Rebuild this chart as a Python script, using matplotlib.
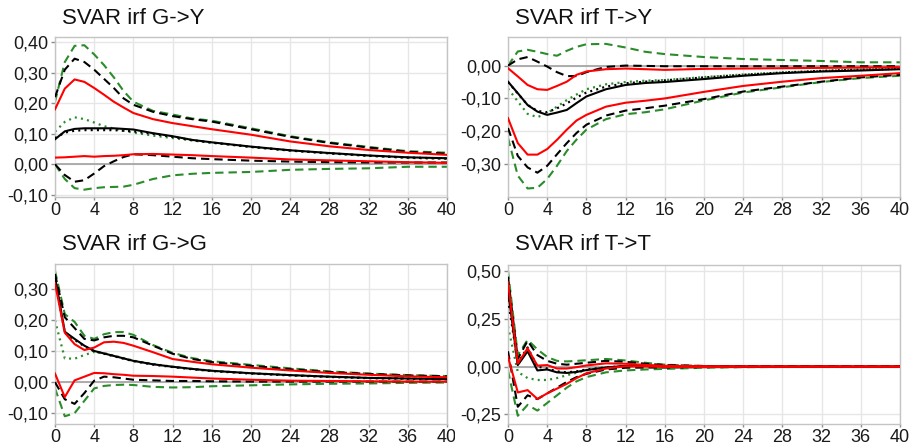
"""SVAR impulse responses: four panels (G->Y, T->Y, G->G, T->T), 40 quarters.

Each panel carries a point estimate (black), its bands (black dashed), a second
set of bands (red), a wider set (green dashed) and two dotted alternatives.
"""

import matplotlib
matplotlib.use("Agg")
import matplotlib.pyplot as plt
from matplotlib.ticker import FuncFormatter
from matplotlib.transforms import Bbox, TransformedBbox

plt.rcParams["font.family"] = ["Liberation Sans", "DejaVu Sans"]

# horizons (quarters) at which values were read
H = [0, 1, 2, 3, 4, 5, 6, 7, 8, 10, 12, 14, 16, 20, 24, 28, 32, 36, 40]

# ---------------------------------------------------------------- G -> Y
gy_green_up = [0.205, 0.335, 0.388, 0.39, 0.36, 0.325, 0.285, 0.24, 0.205, 0.175, 0.163, 0.15, 0.143, 0.118, 0.092, 0.072, 0.057, 0.043, 0.038]
gy_black_up = [0.22, 0.31, 0.346, 0.335, 0.31, 0.28, 0.25, 0.216, 0.195, 0.172, 0.158, 0.148, 0.14, 0.115, 0.09, 0.07, 0.055, 0.041, 0.035]
gy_red_up = [0.18, 0.248, 0.278, 0.27, 0.25, 0.228, 0.205, 0.186, 0.168, 0.148, 0.135, 0.125, 0.115, 0.097, 0.075, 0.059, 0.047, 0.038, 0.031]
gy_black = [0.082, 0.108, 0.116, 0.118, 0.118, 0.118, 0.118, 0.116, 0.114, 0.102, 0.092, 0.08, 0.072, 0.058, 0.046, 0.037, 0.029, 0.023, 0.02]
gy_black_dot = [0.086, 0.104, 0.11, 0.112, 0.112, 0.112, 0.112, 0.11, 0.108, 0.1, 0.09, 0.079, 0.071, 0.057, 0.045, 0.036, 0.028, 0.022, 0.019]
gy_green_dot = [0.107, 0.139, 0.154, 0.148, 0.137, 0.125, 0.117, 0.11, 0.104, 0.094, 0.086, 0.078, 0.071, 0.057, 0.045, 0.036, 0.028, 0.021, 0.018]
gy_red_lo = [0.022, 0.023, 0.025, 0.027, 0.025, 0.027, 0.028, 0.03, 0.033, 0.034, 0.032, 0.03, 0.027, 0.022, 0.016, 0.013, 0.01, 0.007, 0.005]
gy_black_lo = [0.0, -0.035, -0.057, -0.052, -0.03, -0.006, 0.01, 0.024, 0.033, 0.03, 0.025, 0.02, 0.017, 0.012, 0.009, 0.007, 0.006, 0.006, 0.006]
gy_green_lo = [0.0, -0.048, -0.078, -0.083, -0.078, -0.075, -0.074, -0.073, -0.067, -0.048, -0.036, -0.031, -0.028, -0.025, -0.018, -0.015, -0.013, -0.008, -0.008]

# ---------------------------------------------------------------- T -> Y
ty_green_up = [0.0, 0.043, 0.048, 0.042, 0.035, 0.03, 0.045, 0.057, 0.065, 0.066, 0.055, 0.042, 0.035, 0.026, 0.02, 0.017, 0.014, 0.01, 0.01]
ty_black_up = [0.0, 0.019, 0.026, 0.012, -0.003, -0.02, -0.032, -0.032, -0.02, -0.004, 0.0, -0.001, -0.002, -0.002, -0.002, -0.002, -0.002, -0.002, -0.002]
ty_red_up = [-0.008, -0.033, -0.059, -0.072, -0.074, -0.062, -0.049, -0.028, -0.018, -0.011, -0.009, -0.011, -0.013, -0.01, -0.009, -0.008, -0.007, -0.006, -0.005]
ty_black = [-0.049, -0.084, -0.12, -0.14, -0.15, -0.143, -0.135, -0.114, -0.094, -0.072, -0.059, -0.053, -0.05, -0.041, -0.031, -0.023, -0.018, -0.015, -0.011]
ty_black_dot = [-0.05, -0.085, -0.12, -0.138, -0.142, -0.13, -0.115, -0.097, -0.082, -0.064, -0.054, -0.049, -0.045, -0.036, -0.028, -0.021, -0.016, -0.012, -0.01]
ty_green_dot = [-0.07, -0.109, -0.147, -0.157, -0.145, -0.125, -0.105, -0.088, -0.072, -0.057, -0.05, -0.046, -0.044, -0.035, -0.027, -0.021, -0.016, -0.012, -0.01]
ty_red_lo = [-0.16, -0.236, -0.271, -0.271, -0.254, -0.226, -0.195, -0.167, -0.15, -0.125, -0.113, -0.107, -0.1, -0.08, -0.062, -0.049, -0.038, -0.031, -0.023]
ty_black_lo = [-0.19, -0.275, -0.31, -0.326, -0.305, -0.27, -0.236, -0.205, -0.18, -0.152, -0.137, -0.13, -0.122, -0.102, -0.079, -0.064, -0.049, -0.036, -0.028]
ty_green_lo = [-0.22, -0.335, -0.374, -0.372, -0.345, -0.305, -0.26, -0.225, -0.195, -0.163, -0.148, -0.142, -0.133, -0.106, -0.082, -0.066, -0.05, -0.038, -0.031]

# ---------------------------------------------------------------- G -> G
gg_green_up = [0.36, 0.22, 0.195, 0.15, 0.14, 0.155, 0.162, 0.162, 0.153, 0.12, 0.095, 0.078, 0.068, 0.056, 0.045, 0.035, 0.028, 0.023, 0.02]
gg_black_up = [0.35, 0.21, 0.175, 0.14, 0.135, 0.145, 0.15, 0.15, 0.145, 0.118, 0.092, 0.075, 0.065, 0.053, 0.042, 0.033, 0.027, 0.022, 0.019]
gg_red_up = [0.32, 0.16, 0.123, 0.104, 0.112, 0.129, 0.131, 0.127, 0.118, 0.097, 0.075, 0.066, 0.058, 0.047, 0.038, 0.03, 0.024, 0.019, 0.016]
gg_black = [0.34, 0.163, 0.14, 0.118, 0.101, 0.093, 0.085, 0.077, 0.069, 0.058, 0.05, 0.043, 0.037, 0.029, 0.023, 0.018, 0.014, 0.012, 0.01]
gg_black_dot = [0.335, 0.16, 0.137, 0.116, 0.1, 0.092, 0.084, 0.076, 0.068, 0.057, 0.049, 0.042, 0.036, 0.028, 0.022, 0.017, 0.013, 0.011, 0.01]
gg_green_dot = [0.2, 0.077, 0.076, 0.088, 0.098, 0.094, 0.086, 0.078, 0.07, 0.059, 0.05, 0.043, 0.037, 0.029, 0.023, 0.018, 0.014, 0.012, 0.01]
gg_red_lo = [0.028, -0.048, 0.006, 0.018, 0.03, 0.029, 0.026, 0.024, 0.021, 0.02, 0.018, 0.015, 0.012, 0.008, 0.005, 0.004, 0.003, 0.002, 0.002]
gg_black_lo = [0.0, -0.055, -0.07, -0.035, 0.005, 0.018, 0.016, 0.012, 0.008, 0.006, 0.004, 0.004, 0.003, 0.002, 0.002, 0.002, 0.002, 0.002, 0.002]
gg_green_lo = [-0.02, -0.11, -0.1, -0.06, -0.02, -0.012, -0.009, -0.008, -0.009, -0.015, -0.017, -0.016, -0.013, -0.01, -0.007, -0.005, -0.004, -0.002, -0.001]

# ---------------------------------------------------------------- T -> T
tt_green_up = [0.5, 0.06, 0.14, 0.09, 0.05, 0.03, 0.027, 0.03, 0.033, 0.04, 0.032, 0.02, 0.01, 0.003, 0.002, 0.002, 0.002, 0.002, 0.002]
tt_black_up = [0.47, 0.04, 0.135, 0.06, 0.03, 0.015, 0.01, 0.015, 0.02, 0.03, 0.025, 0.015, 0.008, 0.003, 0.002, 0.002, 0.002, 0.002, 0.002]
tt_red_up = [0.44, 0.016, 0.096, 0.005, 0.008, -0.01, -0.01, -0.003, 0.006, 0.017, 0.015, 0.009, 0.004, 0.002, 0.001, 0.001, 0.001, 0.001, 0.001]
tt_black = [0.4, 0.008, 0.08, -0.02, -0.015, -0.03, -0.033, -0.028, -0.018, -0.005, 0.004, 0.005, 0.002, 0.001, 0.0, 0.0, 0.0, 0.0, 0.0]
tt_black_dot = [0.35, 0.02, 0.1, 0.0, -0.01, -0.025, -0.03, -0.025, -0.015, -0.004, 0.003, 0.004, 0.002, 0.001, 0.0, 0.0, 0.0, 0.0, 0.0]
tt_green_dot = [0.21, -0.028, -0.06, -0.07, -0.07, -0.06, -0.045, -0.032, -0.02, -0.005, 0.002, 0.003, 0.002, 0.001, 0.0, 0.0, 0.0, 0.0, 0.0]
tt_red_lo = [0.052, -0.135, -0.123, -0.169, -0.14, -0.115, -0.09, -0.06, -0.035, -0.01, 0.002, 0.001, -0.002, -0.002, -0.001, -0.001, -0.001, -0.001, -0.001]
tt_black_lo = [0.08, -0.21, -0.15, -0.17, -0.14, -0.11, -0.08, -0.055, -0.038, -0.015, -0.006, -0.005, -0.005, -0.003, -0.002, -0.002, -0.002, -0.002, -0.002]
tt_green_lo = [-0.02, -0.257, -0.2, -0.23, -0.19, -0.15, -0.11, -0.077, -0.055, -0.03, -0.02, -0.015, -0.012, -0.006, -0.003, -0.002, -0.002, -0.002, -0.002]

TITLES = ["SVAR irf G->Y", "SVAR irf T->Y", "SVAR irf G->G", "SVAR irf T->T"]
YTICKS = [[-0.1, 0.0, 0.1, 0.2, 0.3, 0.4],
          [-0.3, -0.2, -0.1, 0.0],
          [-0.1, 0.0, 0.1, 0.2, 0.3],
          [-0.25, 0.0, 0.25, 0.5]]
YLIMS = [(-0.107, 0.417), (-0.40, 0.087), (-0.135, 0.382), (-0.30, 0.531)]
XTICKS = list(range(0, 41, 4))

GREEN = "#2a8c2a"
RED = "#ff0000"
W, HGT = 909, 446


def comma(v, _pos=None):
    return f"{v:.2f}".replace(".", ",")


def draw_panel(ax, s):
    ax.axhline(0, color="#a6a6a6", lw=1.3, zorder=1)
    dash = (4, 2.4)
    dot = (0.9, 1.9)
    for key in ("green_up", "green_lo"):
        ax.plot(H, s[key], color=GREEN, lw=1.5, dashes=dash, zorder=2)
    ax.plot(H, s["green_dot"], color=GREEN, lw=1.6, dashes=dot, zorder=2)
    for key in ("black_up", "black_lo"):
        ax.plot(H, s[key], color="black", lw=1.5, dashes=dash, zorder=3)
    ax.plot(H, s["black_dot"], color="black", lw=1.6, dashes=dot, zorder=3)
    ax.plot(H, s["black"], color="black", lw=1.5, zorder=4)
    for key in ("red_up", "red_lo"):
        ax.plot(H, s[key], color=RED, lw=1.5, zorder=5)


def style_axes(ax, yticks, ylim, clip_right=None):
    ax.set_xlim(0, 40)
    ax.set_ylim(*ylim)
    ax.set_xticks(XTICKS)
    ax.set_yticks(yticks)
    ax.yaxis.set_major_formatter(FuncFormatter(comma))
    ax.grid(True, color="#e6e6e6", lw=1.0, zorder=0)
    ax.set_axisbelow(True)
    for sp in ax.spines.values():
        sp.set_color("#c4c4c4")
        sp.set_linewidth(1.0)
    ax.tick_params(axis="both", width=1, color="#8c8c8c",
                   labelsize=13, labelcolor="#1a1a1a")
    ax.tick_params(axis="y", length=3, pad=2)
    ax.tick_params(axis="x", length=2.5, pad=1)
    if clip_right is not None:
        fig = ax.figure
        box = TransformedBbox(Bbox.from_extents(0, 0, clip_right / W, 1), fig.transFigure)
        for lab in ax.get_xticklabels():
            lab.set_clip_on(True)
            lab.set_clip_box(box)


def main():
    series = []
    for p in ("gy", "ty", "gg", "tt"):
        g = globals()
        series.append({k: g[f"{p}_{k}"] for k in
                       ("green_up", "green_lo", "green_dot", "black_up", "black_lo",
                        "black_dot", "black", "red_up", "red_lo")})

    fig = plt.figure(figsize=(W / 100, HGT / 100), dpi=100)
    # axes boxes in pixels: (left, top, right, bottom)
    boxes = [(55, 37, 447, 197), (508, 37, 900, 197),
             (55, 264, 447, 424), (508, 265, 900, 424)]
    title_pos = [(62, 19), (515, 19), (62, 245), (515, 245)]

    for i, (l, t, r, b) in enumerate(boxes):
        ax = fig.add_axes([l / W, 1 - b / HGT, (r - l) / W, (b - t) / HGT])
        draw_panel(ax, series[i])
        style_axes(ax, YTICKS[i], YLIMS[i], clip_right=455 if i % 2 == 0 else None)
        tx, ty = title_pos[i]
        fig.text(tx / W, 1 - ty / HGT, TITLES[i], fontsize=16, color="#111111",
                 ha="left", va="center")

    fig.savefig("out.png", dpi=100)
    plt.close(fig)


if __name__ == "__main__":
    main()
